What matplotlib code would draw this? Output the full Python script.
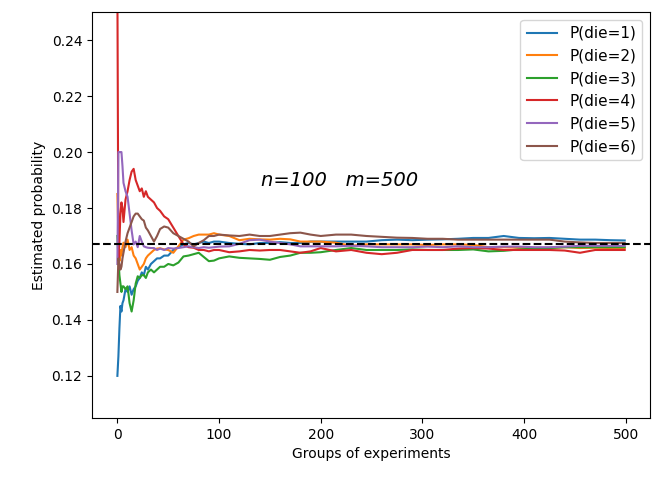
import matplotlib
matplotlib.use("Agg")
from matplotlib import pyplot as plt

groups = [0, 1, 2, 3, 4, 5, 6, 8, 10, 12, 14, 16, 18, 20, 22, 24, 26, 28, 30,
          33, 36, 39, 42, 46, 50, 55, 60, 65, 70, 75, 80, 85, 90, 95, 100,
          110, 120, 130, 140, 150, 160, 170, 180, 190, 200, 215, 230, 245,
          260, 275, 290, 305, 320, 335, 350, 365, 380, 395, 410, 425, 440,
          455, 470, 485, 499]

p_die1 = [0.120, 0.127, 0.137, 0.145, 0.143, 0.146, 0.147, 0.151, 0.150, 0.152,
          0.149, 0.151, 0.152, 0.154, 0.155, 0.157, 0.156, 0.159, 0.158, 0.160,
          0.161, 0.162, 0.162, 0.163, 0.163, 0.165, 0.166, 0.167, 0.1675, 0.167,
          0.1675, 0.168, 0.1675, 0.168, 0.168, 0.1675, 0.1672, 0.167, 0.1675,
          0.1675, 0.1678, 0.1675, 0.1675, 0.168, 0.168, 0.168, 0.168, 0.168,
          0.1685, 0.1687, 0.1685, 0.1687, 0.1688, 0.169, 0.1693, 0.1693, 0.170,
          0.1693, 0.1692, 0.1693, 0.169, 0.1687, 0.1687, 0.1685, 0.1684]

p_die2 = [0.185, 0.170, 0.161, 0.165, 0.163, 0.166, 0.1676, 0.166, 0.1687, 0.165,
          0.166, 0.163, 0.162, 0.160, 0.158, 0.159, 0.160, 0.162, 0.163, 0.164,
          0.165, 0.1655, 0.1656, 0.1652, 0.165, 0.164, 0.1663, 0.1687, 0.1692,
          0.170, 0.1705, 0.1705, 0.1705, 0.171, 0.1705, 0.170, 0.1685, 0.169,
          0.1688, 0.1687, 0.169, 0.1688, 0.168, 0.168, 0.168, 0.1676, 0.1665,
          0.167, 0.167, 0.167, 0.167, 0.1668, 0.167, 0.167, 0.1668, 0.166,
          0.166, 0.1658, 0.1657, 0.1657, 0.166, 0.1657, 0.1658, 0.1657, 0.1657]

p_die3 = [0.170, 0.162, 0.156, 0.153, 0.150, 0.152, 0.152, 0.151, 0.152, 0.146,
          0.143, 0.147, 0.153, 0.1556, 0.155, 0.156, 0.156, 0.155, 0.157, 0.158,
          0.157, 0.158, 0.159, 0.159, 0.160, 0.1595, 0.1605, 0.1627, 0.163,
          0.1635, 0.164, 0.1625, 0.161, 0.1612, 0.162, 0.1627, 0.1622, 0.162,
          0.1618, 0.1615, 0.1625, 0.163, 0.164, 0.164, 0.1642, 0.165, 0.1657,
          0.165, 0.165, 0.165, 0.1652, 0.165, 0.165, 0.165, 0.1652, 0.1645,
          0.1647, 0.1652, 0.1655, 0.1657, 0.166, 0.166, 0.166, 0.166, 0.166]

p_die4 = [0.260, 0.162, 0.168, 0.178, 0.182, 0.180, 0.175, 0.183, 0.186, 0.190,
          0.193, 0.194, 0.190, 0.188, 0.186, 0.187, 0.184, 0.186, 0.184, 0.183,
          0.182, 0.180, 0.179, 0.177, 0.176, 0.173, 0.170, 0.167, 0.166, 0.1658,
          0.165, 0.165, 0.1645, 0.165, 0.165, 0.1642, 0.1645, 0.165, 0.1648,
          0.165, 0.165, 0.1645, 0.164, 0.1645, 0.1657, 0.1645, 0.165, 0.164,
          0.1635, 0.164, 0.165, 0.165, 0.165, 0.1655, 0.1657, 0.1655, 0.165,
          0.165, 0.165, 0.165, 0.1648, 0.164, 0.165, 0.165, 0.165]

p_die5 = [0.160, 0.200, 0.200, 0.200, 0.200, 0.195, 0.189, 0.186, 0.184, 0.178,
          0.172, 0.167, 0.168, 0.166, 0.170, 0.168, 0.1663, 0.166, 0.1658, 0.1657,
          0.1657, 0.165, 0.1655, 0.165, 0.1657, 0.1655, 0.1657, 0.166, 0.1663,
          0.166, 0.1657, 0.166, 0.1658, 0.166, 0.1662, 0.1663, 0.1672, 0.1685,
          0.1687, 0.168, 0.1675, 0.167, 0.1663, 0.1663, 0.1663, 0.1663, 0.1665,
          0.1663, 0.166, 0.166, 0.166, 0.1662, 0.166, 0.1663, 0.166, 0.166,
          0.1662, 0.1662, 0.166, 0.166, 0.1662, 0.1665, 0.1665, 0.1665, 0.1665]

p_die6 = [0.150, 0.162, 0.160, 0.158, 0.159, 0.162, 0.164, 0.168, 0.171, 0.173,
          0.175, 0.177, 0.178, 0.178, 0.177, 0.176, 0.1755, 0.173, 0.172, 0.170,
          0.168, 0.170, 0.1725, 0.1734, 0.173, 0.171, 0.170, 0.169, 0.168, 0.1663,
          0.1675, 0.1685, 0.170, 0.170, 0.1705, 0.1702, 0.170, 0.1705, 0.170,
          0.170, 0.1705, 0.171, 0.1712, 0.1705, 0.170, 0.1705, 0.1705, 0.170,
          0.1697, 0.1694, 0.1693, 0.169, 0.169, 0.1687, 0.1687, 0.1687, 0.1687,
          0.1687, 0.1687, 0.1687, 0.168, 0.1677, 0.1675, 0.1675, 0.1675]

series = [p_die1, p_die2, p_die3, p_die4, p_die5, p_die6]
labels = [f"P(die={i})" for i in range(1, 7)]
true_p = 0.167

fig, ax = plt.subplots(figsize=(6.62, 4.87), dpi=100)
fig.subplots_adjust(left=0.139, right=0.982, top=0.975, bottom=0.142)

for vals, lab in zip(series, labels):
    ax.plot(groups, vals, lw=1.5, label=lab)

ax.axhline(y=true_p, color="black", linestyle="dashed", lw=1.5)
ax.text(141, 0.19, "n=100   m=500", fontsize=14, style="italic", va="center")

ax.set_ylim(0.105, 0.25)
ax.set_xlabel("Groups of experiments")
ax.set_ylabel("Estimated probability")
ax.legend(loc="upper right", fontsize=11)

plt.savefig("out.png", dpi=100)
plt.close()
